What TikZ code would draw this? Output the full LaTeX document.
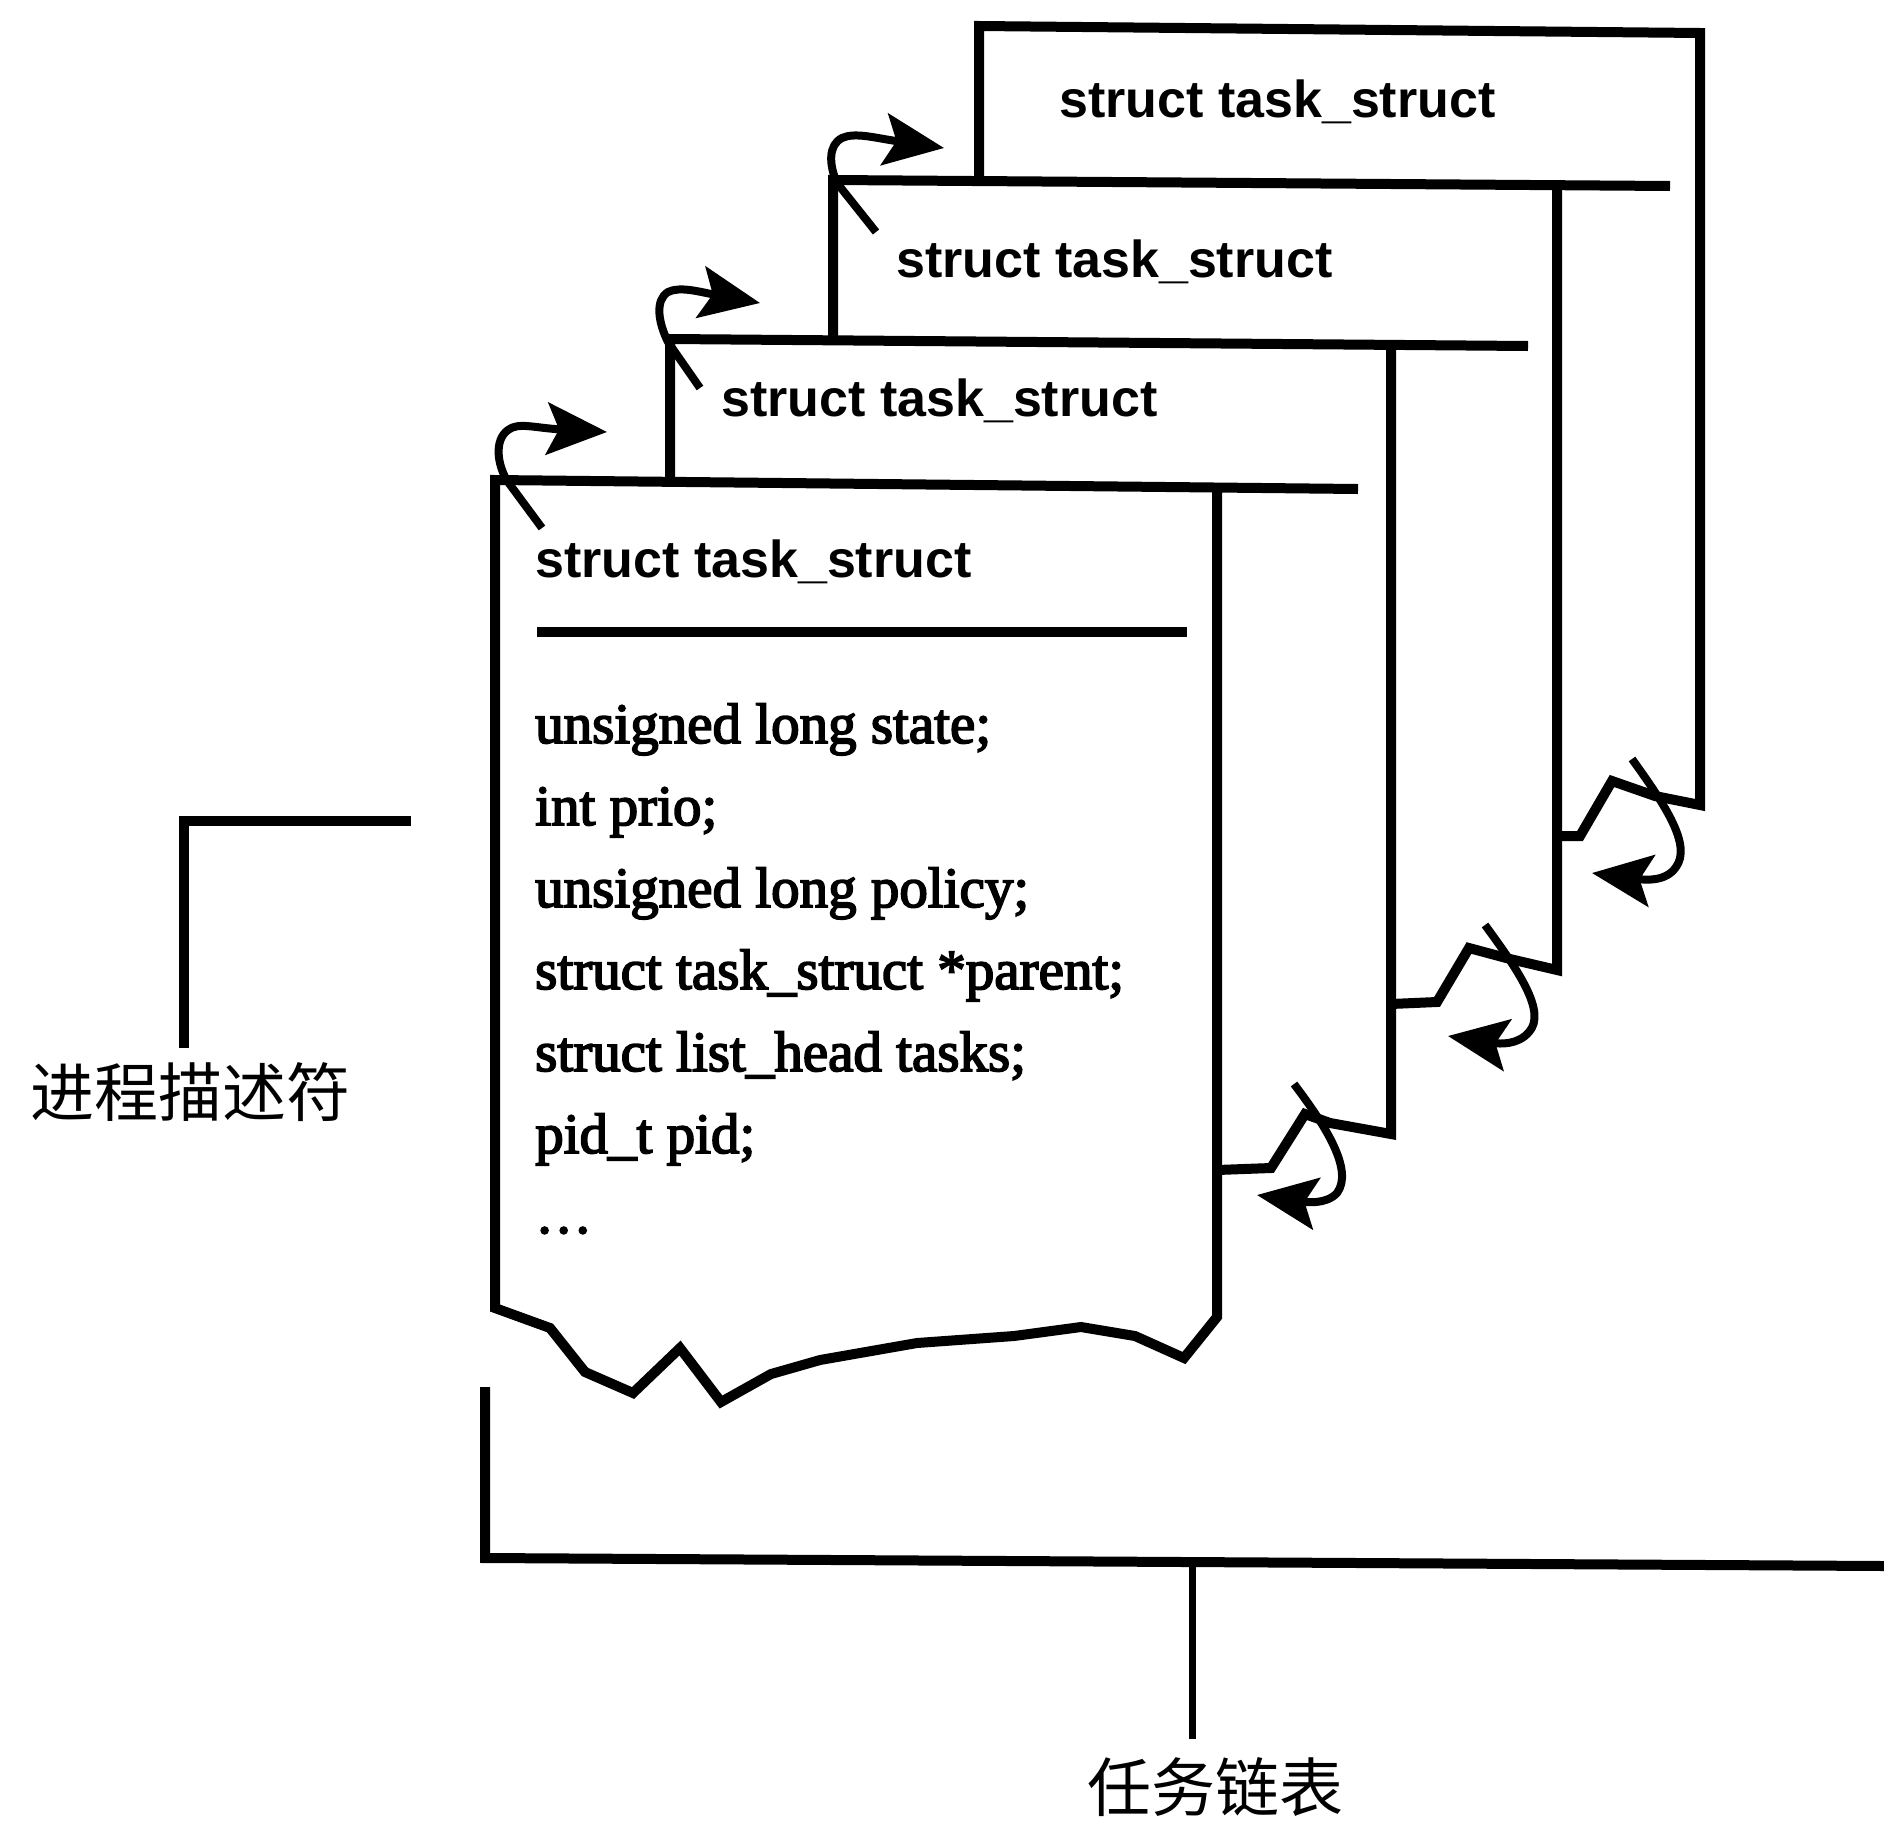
\documentclass[tikz,border=0pt]{standalone}
\usepackage{fontspec}
\usetikzlibrary{arrows.meta}
\newfontfamily\titlefont{Liberation Sans}
\newfontfamily\fieldfont[FakeBold=3]{Liberation Serif}
\newfontfamily\cjk{Noto Sans CJK SC}
\tikzset{
  edge/.style={line width=10pt, line join=miter},
  hdr/.style={line width=10pt},
  brk/.style={line width=10pt},
  arr/.style={line width=8pt, line join=round, -{Stealth[length=60pt,width=52pt,inset=12pt]}},
  ttl/.style={anchor=base west, inner sep=0pt, font=\titlefont\bfseries\fontsize{52}{60}\selectfont},
  fld/.style={anchor=base west, inner sep=0pt, font=\fieldfont\fontsize{57}{82}\selectfont},
  lbl/.style={anchor=base, inner sep=0pt, font=\cjk\fontsize{64}{70}\selectfont},
}
\begin{document}
\begin{tikzpicture}[x=1pt,y=-1pt]
\useasboundingbox (0,0) rectangle (1884,1820);

% ---- box 4 (back)
\draw[edge] (1555,836) -- (1580,836) -- (1612,781) -- (1655,796) -- (1700,805) -- (1700,33) -- (979,26) -- (979,181);
% ---- box 3
\draw[edge] (1391,1004) -- (1437,1002) -- (1469,948) -- (1510,959) -- (1557,970) -- (1557,185);
\draw[edge] (1670,186) -- (833,180) -- (833,340);
% ---- box 2
\draw[edge] (1217,1170) -- (1271,1168) -- (1305,1114) -- (1330,1123) -- (1391,1134) -- (1391,345);
\draw[edge] (1528,346) -- (670,339) -- (670,481);
% ---- box 1 (front)
\draw[edge] (1358,489) -- (495,480) -- (495,1308) -- (550,1328) -- (585,1372) -- (633,1393)
  -- (680,1348) -- (721,1402) -- (771,1374) -- (820,1360) -- (917,1343) -- (1014,1336)
  -- (1081,1327) -- (1135,1336) -- (1184,1358) -- (1217,1317) -- (1217,487);
\draw[hdr] (537,632) -- (1187,632);

% ---- titles
\node[ttl] (t4) at (1059,117) {struct task\_struct};
\node[ttl] (t3) at (896,277) {struct task\_struct};
\node[ttl] (t2) at (721,416) {struct task\_struct};
\node[ttl] (t1) at (535,577) {struct task\_struct};

% ---- fields
\node[fld] (f1) at (535,743) {unsigned long state;};
\node[fld] (f2) at (535,825) {int prio;};
\node[fld] (f3) at (535,907) {unsigned long policy;};
\node[fld] (f4) at (535,989) {struct task\_struct *parent;};
\node[fld] (f5) at (535,1071) {struct list\_head tasks;};
\node[fld] (f6) at (535,1153) {pid\_t pid;};
\node[fld] (f7) at (535,1233) {…};

% ---- top-left arrows (next)
\draw[arr] (542,528) -- (508,482) .. controls (497,465) and (494,440) .. (508,430) .. controls (518,422) and (535,428) .. (607,432);
\draw[arr] (700,388) -- (668,342) .. controls (658,322) and (655,300) .. (668,292) .. controls (680,286) and (700,292) .. (760,303);
\draw[arr] (876,232) -- (837,183) .. controls (829,165) and (828,145) .. (842,138) .. controls (855,132) and (875,138) .. (944,148);

% ---- bottom-right arrows (prev)
\draw[arr] (1632,759) .. controls (1665,805) and (1692,845) .. (1676,867) .. controls (1666,882) and (1645,880) .. (1592,873);
\draw[arr] (1485,925) .. controls (1518,970) and (1547,1012) .. (1529,1032) .. controls (1518,1045) and (1500,1044) .. (1448,1036);
\draw[arr] (1294,1084) .. controls (1325,1125) and (1354,1170) .. (1337,1193) .. controls (1326,1205) and (1305,1202) .. (1257,1195);

% ---- brackets and labels
\draw[brk] (411,821) -- (184,821) -- (184,1048);
\node[lbl] (l1) at (190,1116) {进程描述符};
\draw[brk] (485,1387) -- (485,1558) -- (1884,1566);
\draw[line width=7pt] (1192,1562) -- (1192,1739);
\node[lbl] (l2) at (1215,1811) {任务链表};
\end{tikzpicture}
\end{document}
